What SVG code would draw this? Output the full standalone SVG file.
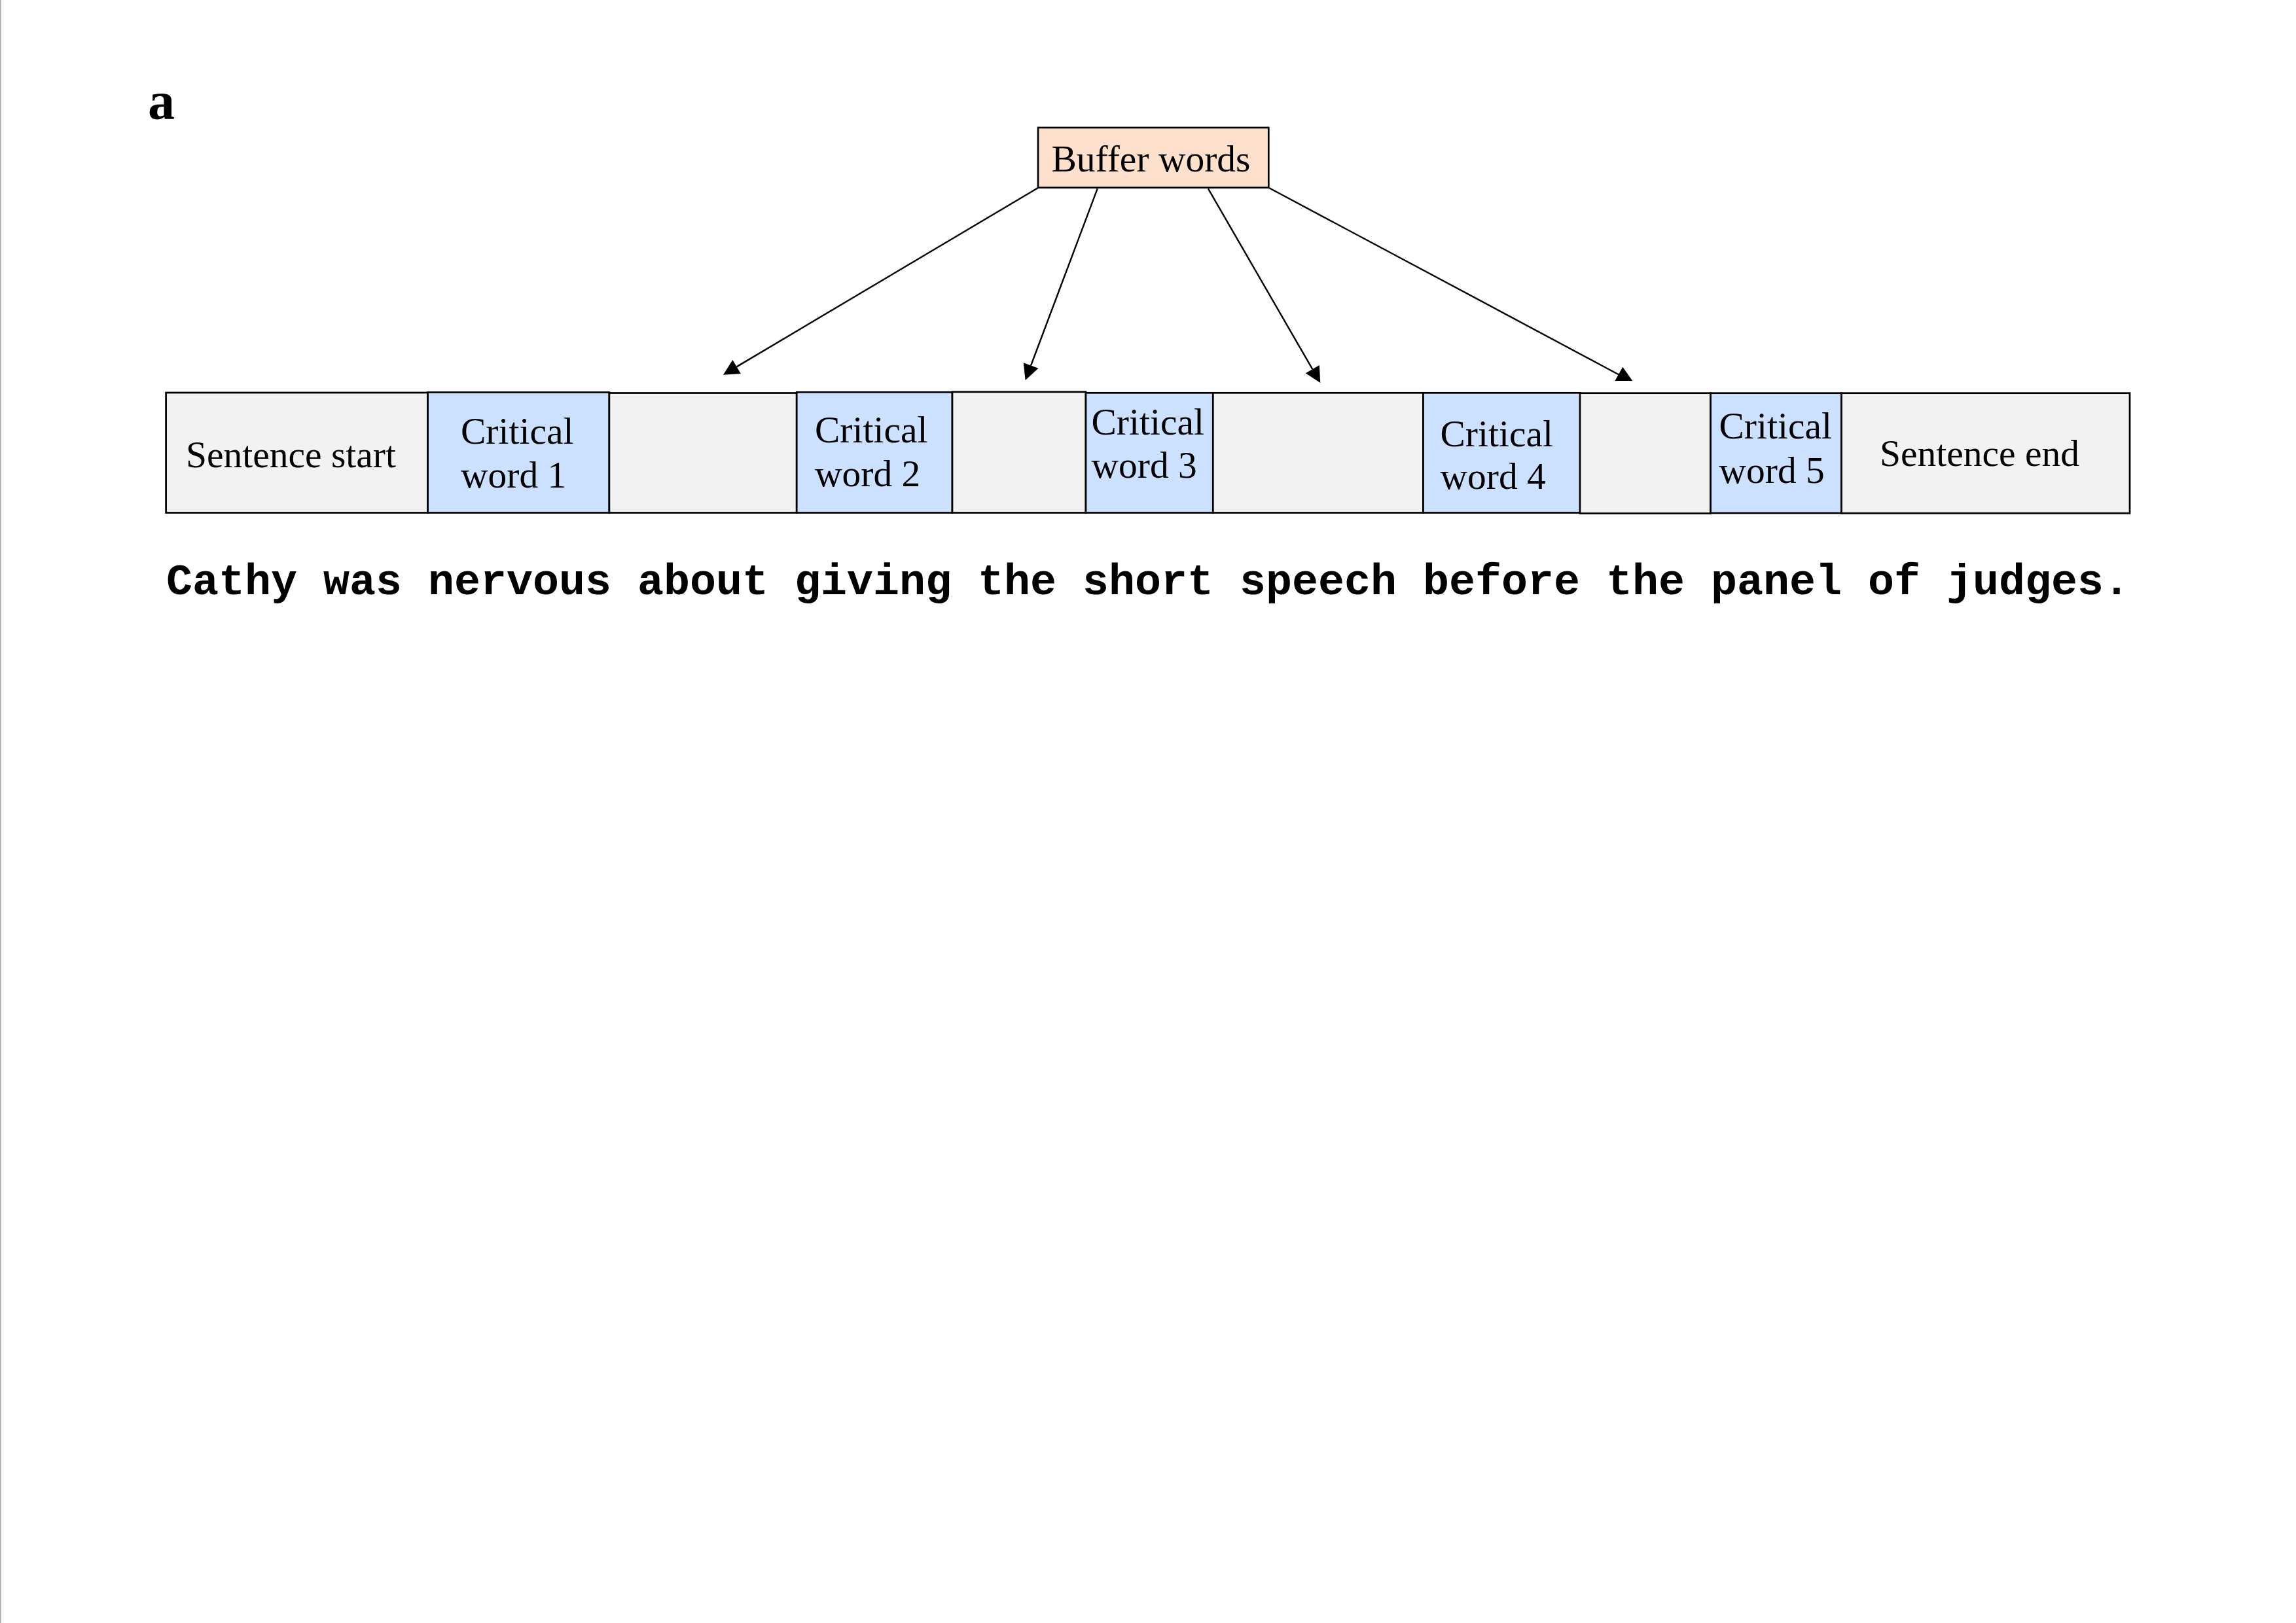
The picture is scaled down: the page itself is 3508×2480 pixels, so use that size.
<svg xmlns="http://www.w3.org/2000/svg" width="3508" height="2480" viewBox="0 0 3508 2480">
<defs>
<style>
.lbl{font-family:"Liberation Serif","Times New Roman",serif;font-size:57.5px;fill:#000}
.grey{fill:#F2F2F2;stroke:#000;stroke-width:2.7}
.blue{fill:#CCE0FF;stroke:#000;stroke-width:2.7}
.peach{fill:#FDE1CD;stroke:#000;stroke-width:2.7}
.conn{stroke:#000;stroke-width:2.4;fill:none}
.sent{font-family:"Liberation Mono","Courier New",monospace;font-weight:bold;font-size:66.67px;fill:#000}
</style>
<marker id="head" markerUnits="userSpaceOnUse" markerWidth="30" markerHeight="30" refX="0" refY="0" orient="auto" overflow="visible">
<path d="M0,-12.2 L24,0 L0,12.2 Z" fill="#000"/>
</marker>
<marker id="headUp" markerUnits="userSpaceOnUse" markerWidth="30" markerHeight="30" refX="0" refY="0" orient="0" overflow="visible">
<path d="M-12.7,6 L14.3,6 L-0.7,-15.3 Z" fill="#000"/>
</marker>
</defs>
<rect x="0" y="0" width="3508" height="2480" fill="#fff"/>
<rect x="0" y="0" width="2" height="2480" fill="#AEB4BA"/>

<text id="panel-label" x="226" y="182" font-family="Liberation Serif,Times New Roman,serif" font-weight="bold" font-size="82" fill="#000">a</text>

<g id="buffer-words">
<rect class="peach" x="1586" y="195" width="352.3" height="91.7"/>
<text class="lbl" x="1606.5" y="262">Buffer words</text>
</g>

<g id="sentence-start">
<rect class="grey" x="253.6" y="600" width="400" height="183.5"/>
<text class="lbl" x="284" y="714">Sentence start</text>
</g>
<g id="critical-word-1">
<rect class="blue" x="653.6" y="599.5" width="277.3" height="184"/>
<text class="lbl" x="704" y="678">Critical</text>
<text class="lbl" x="704" y="745">word 1</text>
</g>
<g id="buffer-1">
<rect class="grey" x="930.9" y="600.5" width="286.3" height="183"/>
</g>
<g id="critical-word-2">
<rect class="blue" x="1217.2" y="599.3" width="237.8" height="184.2"/>
<text class="lbl" x="1245" y="676">Critical</text>
<text class="lbl" x="1245" y="743">word 2</text>
</g>
<g id="buffer-2">
<rect class="grey" x="1455" y="598.8" width="204" height="184.7"/>
</g>
<g id="critical-word-3">
<rect class="blue" x="1659" y="600.3" width="194.3" height="183.2"/>
<text class="lbl" x="1667.5" y="664">Critical</text>
<text class="lbl" x="1667.5" y="730">word 3</text>
</g>
<g id="buffer-3">
<rect class="grey" x="1853.3" y="600.3" width="321.2" height="183.2"/>
</g>
<g id="critical-word-4">
<rect class="blue" x="2174.5" y="600.3" width="240" height="183.2"/>
<text class="lbl" x="2200.5" y="681.5">Critical</text>
<text class="lbl" x="2200.5" y="747">word 4</text>
</g>
<g id="buffer-4">
<rect class="grey" x="2414" y="600.7" width="199.6" height="183.8"/>
</g>
<g id="critical-word-5">
<rect class="blue" x="2613.6" y="600.7" width="199.9" height="183.3"/>
<text class="lbl" x="2626.5" y="670">Critical</text>
<text class="lbl" x="2626.5" y="737.5">word 5</text>
</g>
<g id="sentence-end">
<rect class="grey" x="2813.5" y="600.7" width="440.5" height="183.6"/>
<text class="lbl" x="2872" y="712">Sentence end</text>
</g>

<g id="connectors">
<line class="conn" x1="1586" y1="287" x2="1125.6" y2="560.4" marker-end="url(#head)"/>
<line class="conn" x1="1676.7" y1="288.3" x2="1575.1" y2="558.5" marker-end="url(#head)"/>
<line class="conn" x1="1846" y1="288.3" x2="2005.3" y2="564.2" marker-end="url(#head)"/>
<line class="conn" x1="1938.3" y1="286.7" x2="2480" y2="576" marker-end="url(#headUp)"/>
</g>

<text id="sentence" class="sent" x="254" y="908">Cathy was nervous about giving the short speech before the panel of judges.</text>
</svg>
